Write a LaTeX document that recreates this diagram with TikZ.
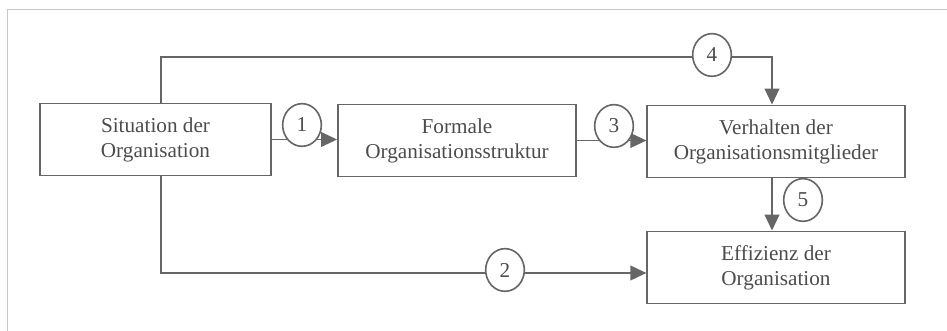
\documentclass[tikz,border=0pt]{standalone}
\usepackage{fontspec}
\setmainfont{Liberation Serif}
\usetikzlibrary{arrows.meta,shapes.geometric}

\definecolor{linegray}{gray}{0.4}
\definecolor{txtgray}{gray}{0.3}
\definecolor{framegray}{gray}{0.78}

\begin{document}
\begin{tikzpicture}[x=0.75pt,y=-0.75pt,>={Triangle[length=12pt,width=11pt]},
    every node/.append style={align=center,font=\fontsize{15.9}{18.75}\selectfont,text=txtgray},
    box/.style={draw=linegray,line width=1.4pt,minimum height=54pt,inner sep=0pt},
    num/.style={draw=linegray,line width=1.2pt,fill=white,ellipse,minimum width=29pt,minimum height=32pt,inner sep=0pt},
    conn/.style={draw=linegray,line width=1.4pt}]
        \useasboundingbox (0,0) rectangle (947,331);
        \draw[framegray,line width=0.7pt] (7,331) -- (7,9) -- (947,9);

        \node [box,minimum width=173pt] (sit)  at (155.5,139.5) {Situation der\\Organisation};
        \node [box,minimum width=178.5pt] (form) at (457,140.5) {Formale\\Organisationsstruktur};
        \node [box,minimum width=193pt] (verh) at (776,141.5) {Verhalten der\\Organisationsmitglieder};
        \node [box,minimum width=193pt] (eff)  at (776,267.5) {Effizienz der\\Organisation};

        % bends of the two long lines
        \coordinate (up)   at (161,57);
        \coordinate (down) at (161,273);
        \coordinate (k4)   at (772,57);

        \draw[conn,->] (sit.east) -- (sit.east -| form.west);
        \draw[conn,->] (form.east) -- (form.east -| verh.west);
        \draw[conn,->] (sit.north -| up) -- (up) -- (k4) -- (verh.north -| k4);
        \draw[conn,->] (sit.south -| down) -- (down) -- (down -| eff.west);
        \draw[conn,->] (verh.south -| k4) -- (eff.north -| k4);

        \node [num] (n1) at (302,125) {1};
        \node [num] (n2) at (505,270) {2};
        \node [num] (n3) at (614,126) {3};
        \node [num] (n4) at (712,55) {4};
        \node [num] (n5) at (803,200) {5};
\end{tikzpicture}
\end{document}
